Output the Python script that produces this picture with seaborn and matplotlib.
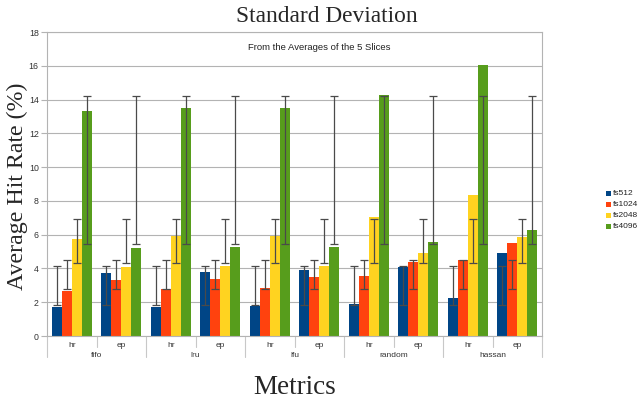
import numpy as np
import pandas as pd
import matplotlib
matplotlib.use("Agg")
import matplotlib.pyplot as plt
from matplotlib.patches import Rectangle
import seaborn as sns

# ---- data ----
groups = ["fifo", "lru", "lfu", "random", "hassan"]
metrics = ["hr", "ep"]
series = ["fs512", "fs1024", "fs2048", "fs4096"]
fs512 = [1.70, 3.73, 1.74, 3.77, 1.80, 3.90, 1.87, 4.09, 2.23, 4.90]
fs1024 = [2.66, 3.30, 2.76, 3.39, 2.82, 3.47, 3.55, 4.38, 4.48, 5.53]
fs2048 = [5.76, 4.07, 5.90, 4.14, 5.90, 4.14, 7.05, 4.94, 8.37, 5.84]
fs4096 = [13.34, 5.23, 13.48, 5.29, 13.48, 5.29, 14.25, 5.58, 16.03, 6.28]
colors = ["#004586", "#ff420e", "#ffd320", "#579d1c"]
yticks = [0, 2, 4, 6, 8, 10, 12, 14, 16, 18]

cats = [f"{g}-{m}" for g in groups for m in metrics]
vals = {"fs512": fs512, "fs1024": fs1024, "fs2048": fs2048, "fs4096": fs4096}
df = pd.DataFrame([
    {"cat": c, "series": s, "value": v}
    for s in series for c, v in zip(cats, vals[s])
])

sns.set_theme(style="whitegrid")
plt.rcParams["font.family"] = ["Liberation Sans", "DejaVu Sans"]

fig = plt.figure(figsize=(6.39, 4.04), dpi=100)
ax = fig.add_axes([47 / 639, 68 / 404, 495 / 639, 304 / 404])

sns.barplot(data=df, x="cat", y="value", hue="series", order=cats,
            hue_order=series, palette=colors, saturation=1, width=0.8,
            errorbar=None, legend=False, linewidth=0, ax=ax)

# standard deviation error bars (drawn around each series mean)
for cont, s in zip(ax.containers, series):
    arr = np.array(vals[s])
    m, sd = arr.mean(), arr.std()
    xs = [p.get_x() + p.get_width() / 2 for p in cont.patches]
    ax.errorbar(xs, [m] * len(xs), yerr=sd, fmt="none", ecolor="#4a4a4a",
                elinewidth=0.9, capsize=2.6, capthick=0.9, zorder=5)

ax.set_xlim(-0.5, len(cats) - 0.5)
ax.set_ylim(0, 18)
ax.set_yticks(yticks)
ax.set_yticklabels([str(t) for t in yticks], fontsize=6.3, color="#333333")
ax.tick_params(axis="y", which="major", length=4, width=0.8, color="#b3b3b3",
               left=True, pad=2)
ax.set_xticks([])
ax.set_xlabel("")
ax.set_ylabel("")
ax.grid(axis="y", color="#b3b3b3", linewidth=0.8)
ax.grid(axis="x", visible=False)
for sp in ax.spines.values():
    sp.set_color("#b3b3b3")
    sp.set_linewidth(0.8)

# hierarchical x-axis labels
trans = ax.get_xaxis_transform()
for i, c in enumerate(cats):
    ax.text(i, -0.03, c.split("-")[1], transform=trans, ha="center",
            va="center", fontsize=6, color="#333333")
for gi, g in enumerate(groups):
    ax.text(gi * 2 + 0.5, -0.063, g, transform=trans, ha="center",
            va="center", fontsize=6, color="#333333")
    ax.plot([gi * 2 + 0.5] * 2, [0, -0.036], transform=trans, clip_on=False,
            color="#c8c8c8", lw=0.8)
for b in np.arange(-0.5, len(cats), 2):
    ax.plot([b, b], [0, -0.07], transform=trans, clip_on=False,
            color="#c8c8c8", lw=0.8)

serif = ["Liberation Serif", "DejaVu Serif"]
fig.text(327 / 639, 1 - 17 / 404, "Standard Deviation", ha="center",
         va="center", fontsize=16.8, family=serif)
fig.text(319 / 639, 1 - 48 / 404, "From the Averages of the 5 Slices",
         ha="center", va="center", fontsize=6.8, color="#222222")
fig.text(295 / 639, 1 - 388 / 404, "Metrics", ha="center", va="center",
         fontsize=19.5, family=serif)
fig.text(17.5 / 639, 1 - 186 / 404, "Average Hit Rate (%)", ha="center",
         va="center", rotation=90, fontsize=17.2, family=serif)

# legend
for k, (s, c) in enumerate(zip(series, colors)):
    yc = 193.3 + k * 11.1
    fig.add_artist(Rectangle((606 / 639, 1 - (yc + 2.6) / 404),
                             5.2 / 639, 5.2 / 404, transform=fig.transFigure,
                             facecolor=c, edgecolor="none"))
    fig.text(612.5 / 639, 1 - yc / 404, s, ha="left", va="center",
             fontsize=6.0, color="#222222")

fig.savefig("out.png", dpi=100)
